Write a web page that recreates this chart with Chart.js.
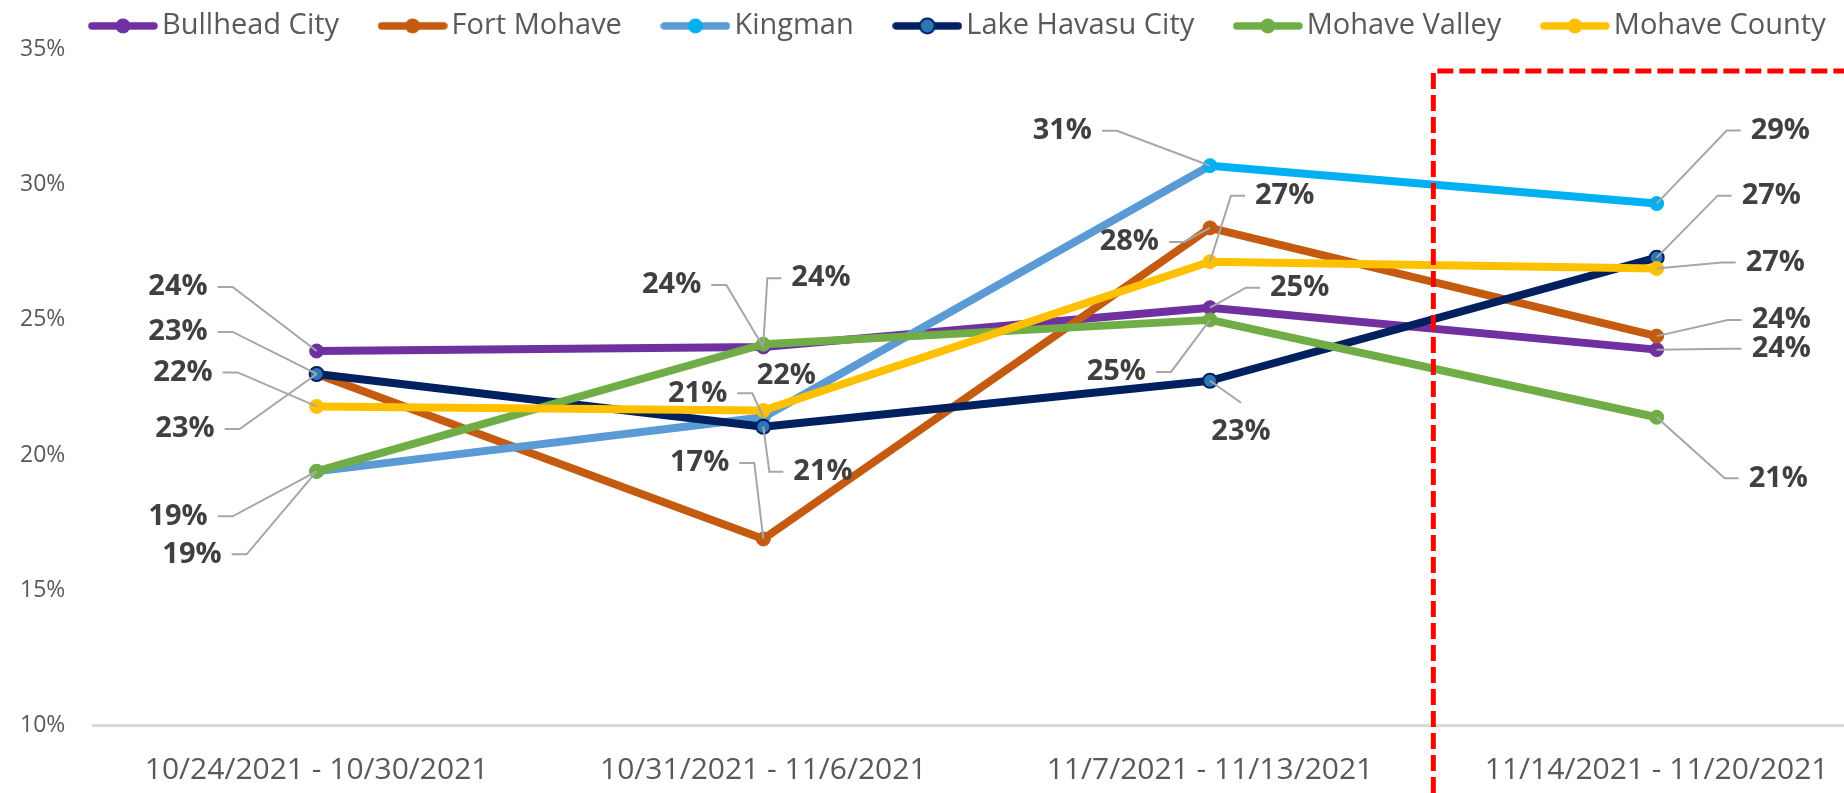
<!DOCTYPE html>
<html>
<head>
<meta charset="utf-8">
<script src="https://cdn.jsdelivr.net/npm/chart.js@4.4.1/dist/chart.umd.min.js"></script>
<style>
  html, body { margin: 0; padding: 0; background: #ffffff; overflow: hidden; }
  #wrap { width: 1889px; height: 793px; }
</style>
</head>
<body>
<div id="wrap"><canvas id="weeklyChart" width="1889" height="793"></canvas></div>
<script>
// weeks on the x axis
const weeks = ['10/24/2021 - 10/30/2021', '10/31/2021 - 11/6/2021', '11/7/2021 - 11/13/2021', '11/14/2021 - 11/20/2021'];

// weekly percentage per place
const bullheadCity   = [23.85, 24.0, 25.45, 23.9];
const fortMohave     = [23.0, 16.9, 28.4, 24.4];
const kingman        = [19.4, 21.4, 30.7, 29.3];
const lakeHavasuCity = [23.0, 21.05, 22.75, 27.3];
const mohaveValley   = [19.4, 24.1, 25.0, 21.4];
const mohaveCounty   = [21.8, 21.65, 27.15, 26.9];

// y axis range (percent)
const yMin = 10, yMax = 35, yStep = 5;
const boxTopValue = 34.2; // top of the dashed red box

const grisTexto = '#595959';
const grisGuia = '#A6A6A6';
const fuente = '"Open Sans", "Liberation Sans", sans-serif';

// where each value label sits, relative to its point: [side, dx, dy]
const labelSpots = [
  [['left', -84, -64], ['left', -37, -62], ['right', 36, -20], ['right', 71, -1]],
  [['left', -84, -42], ['left', -9, -76], ['left', -26, 14], ['right', 71, -16]],
  [['left', -84, 45], ['left', -11, -24], ['left', -93, -35], ['right', 70, -73]],
  [['left', -77, 55], ['right', 6, 45], ['below', 31, 22], ['right', 61, -62]],
  [['left', -70, 83], ['right', 4, -66], ['left', -39, 52], ['right', 68, 61]],
  [['left', -79, -34], ['none', 23, -35], ['right', 21, -66], ['right', 65, -6]]
];

// icono de leyenda: linea con punto
function iconoLeyenda(colorLinea, colorPunto, colorBorde) {
  const c = document.createElement('canvas');
  c.width = 70; c.height = 18;
  const g = c.getContext('2d');
  g.strokeStyle = colorLinea;
  g.lineWidth = 7.5;
  g.lineCap = 'round';
  g.beginPath(); g.moveTo(4, 9); g.lineTo(66, 9); g.stroke();
  g.fillStyle = colorPunto;
  g.beginPath(); g.arc(35, 9, 7.5, 0, Math.PI * 2); g.fill();
  if (colorBorde) { g.lineWidth = 2; g.strokeStyle = colorBorde; g.stroke(); }
  return c;
}

const series = [
  { label: 'Bullhead City', data: bullheadCity, color: '#7030A0' },
  { label: 'Fort Mohave', data: fortMohave, color: '#C55A11' },
  { label: 'Kingman', data: kingman, color: '#5B9BD5' },
  { label: 'Lake Havasu City', data: lakeHavasuCity, color: '#002060' },
  { label: 'Mohave Valley', data: mohaveValley, color: '#70AD47' },
  { label: 'Mohave County', data: mohaveCounty, color: '#FFC000' }
];

const iconos = [
  iconoLeyenda('#7030A0', '#7030A0'),
  iconoLeyenda('#C55A11', '#C55A11'),
  iconoLeyenda('#5B9BD5', '#00B0F0'),
  iconoLeyenda('#002060', '#2E75B6', '#002060'),
  iconoLeyenda('#70AD47', '#70AD47'),
  iconoLeyenda('#FFC000', '#FFC000')
];

const datasets = series.map((s, i) => {
  const ds = {
    label: s.label,
    data: s.data,
    borderColor: s.color,
    backgroundColor: s.color,
    borderWidth: 8,
    borderJoinStyle: 'round',
    borderCapStyle: 'round',
    tension: 0,
    pointRadius: 7,
    pointHoverRadius: 7,
    pointBorderWidth: 1,
    pointBackgroundColor: s.color,
    pointBorderColor: s.color,
    order: series.length - i  // las ultimas series quedan encima, como en Excel
  };
  if (s.label === 'Kingman') {
    ds.pointBackgroundColor = ['#5B9BD5', '#5B9BD5', '#00B0F0', '#00B0F0'];
    ds.pointBorderColor = ['#5B9BD5', '#5B9BD5', '#00B0F0', '#00B0F0'];
    ds.segment = { borderColor: ctx => ctx.p0DataIndex === 2 ? '#00B0F0' : undefined };
  }
  if (s.label === 'Lake Havasu City') {
    ds.pointBackgroundColor = '#2E75B6';
    ds.pointBorderColor = '#002060';
    ds.pointBorderWidth = 2;
  }
  return ds;
});

// etiquetas de valor con lineas guia
const etiquetasPlugin = {
  id: 'etiquetas',
  afterDatasetsDraw(chart) {
    const ctx = chart.ctx;
    ctx.save();
    ctx.font = 'bold 29px ' + fuente;
    ctx.textBaseline = 'middle';
    chart.data.datasets.forEach((ds, i) => {
      const meta = chart.getDatasetMeta(i);
      meta.data.forEach((pt, j) => {
        const [side, dx, dy] = labelSpots[i][j];
        const ex = pt.x + dx, ey = pt.y + dy;
        const txt = Math.round(ds.data[j]) + '%';
        ctx.strokeStyle = grisGuia;
        ctx.lineWidth = 2;
        ctx.fillStyle = '#404040';
        if (side === 'left') {
          ctx.beginPath(); ctx.moveTo(pt.x, pt.y); ctx.lineTo(ex, ey); ctx.lineTo(ex - 15, ey); ctx.stroke();
          ctx.textAlign = 'right';
          ctx.fillText(txt, ex - 25, ey);
        } else if (side === 'right') {
          ctx.beginPath(); ctx.moveTo(pt.x, pt.y); ctx.lineTo(ex, ey); ctx.lineTo(ex + 14, ey); ctx.stroke();
          ctx.textAlign = 'left';
          ctx.fillText(txt, ex + 24, ey);
        } else if (side === 'below') {
          ctx.beginPath(); ctx.moveTo(pt.x, pt.y); ctx.lineTo(ex, ey); ctx.stroke();
          ctx.textAlign = 'center';
          ctx.fillText(txt, ex, ey + 29);
        } else {
          ctx.textAlign = 'center';
          ctx.fillText(txt, ex, ey);
        }
      });
    });
    ctx.restore();
  }
};

// la leyenda empieza mas a la derecha que el eje y
const leyendaPlugin = {
  id: 'moverLeyenda',
  afterLayout(chart) {
    const lg = chart.legend;
    lg.left += 49.5; lg.right += 49.5;
    lg.top += 1; lg.bottom += 1;
  }
};

// recuadro rojo punteado alrededor de la ultima semana
const recuadroPlugin = {
  id: 'recuadro',
  afterDraw(chart) {
    const ctx = chart.ctx;
    const xs = chart.scales.x, ys = chart.scales.y;
    const x = (xs.getPixelForValue(2) + xs.getPixelForValue(3)) / 2;
    const top = ys.getPixelForValue(boxTopValue);
    ctx.save();
    ctx.strokeStyle = '#FF0000';
    ctx.lineWidth = 5;
    ctx.setLineDash([16, 6]);
    ctx.beginPath();
    ctx.moveTo(x, chart.height);
    ctx.lineTo(x, top);
    ctx.lineTo(chart.width, top);
    ctx.stroke();
    ctx.restore();
  }
};

const chart = new Chart(document.getElementById('weeklyChart').getContext('2d'), {
  type: 'line',
  data: { labels: weeks, datasets: datasets },
  options: {
    responsive: false,
    animation: false,
    layout: { padding: { top: -38.6, left: 0, right: 0, bottom: 0 } },
    plugins: {
      tooltip: { enabled: false },
      legend: {
        position: 'top',
        align: 'start',
        labels: {
          usePointStyle: true,
          pointStyleWidth: 49,
          padding: 49,
          color: grisTexto,
          font: { family: fuente, size: 29 },
          generateLabels: chart => chart.data.datasets.map((ds, i) => ({
            text: ds.label,
            pointStyle: iconos[i],
            fontColor: grisTexto,
            fillStyle: 'transparent',
            strokeStyle: 'transparent',
            lineWidth: 0,
            hidden: false,
            datasetIndex: i
          }))
        }
      }
    },
    scales: {
      x: {
        offset: true,
        grid: { display: false, drawTicks: false },
        border: { display: true, color: '#D9D9D9', width: 3 },
        ticks: { color: grisTexto, font: { family: fuente, size: 30 }, padding: 27, maxRotation: 0 },
        afterFit: s => { s.height = 67.4; }
      },
      y: {
        min: yMin,
        max: yMax,
        grid: { display: false, drawTicks: false },
        border: { display: false },
        ticks: {
          stepSize: yStep,
          color: grisTexto,
          font: { family: fuente, size: 23 },
          padding: 28,
          callback: v => v + '%'
        },
        afterFit: s => { s.width = 93.3; }
      }
    }
  },
  plugins: [etiquetasPlugin, leyendaPlugin, recuadroPlugin]
});
</script>
</body>
</html>
